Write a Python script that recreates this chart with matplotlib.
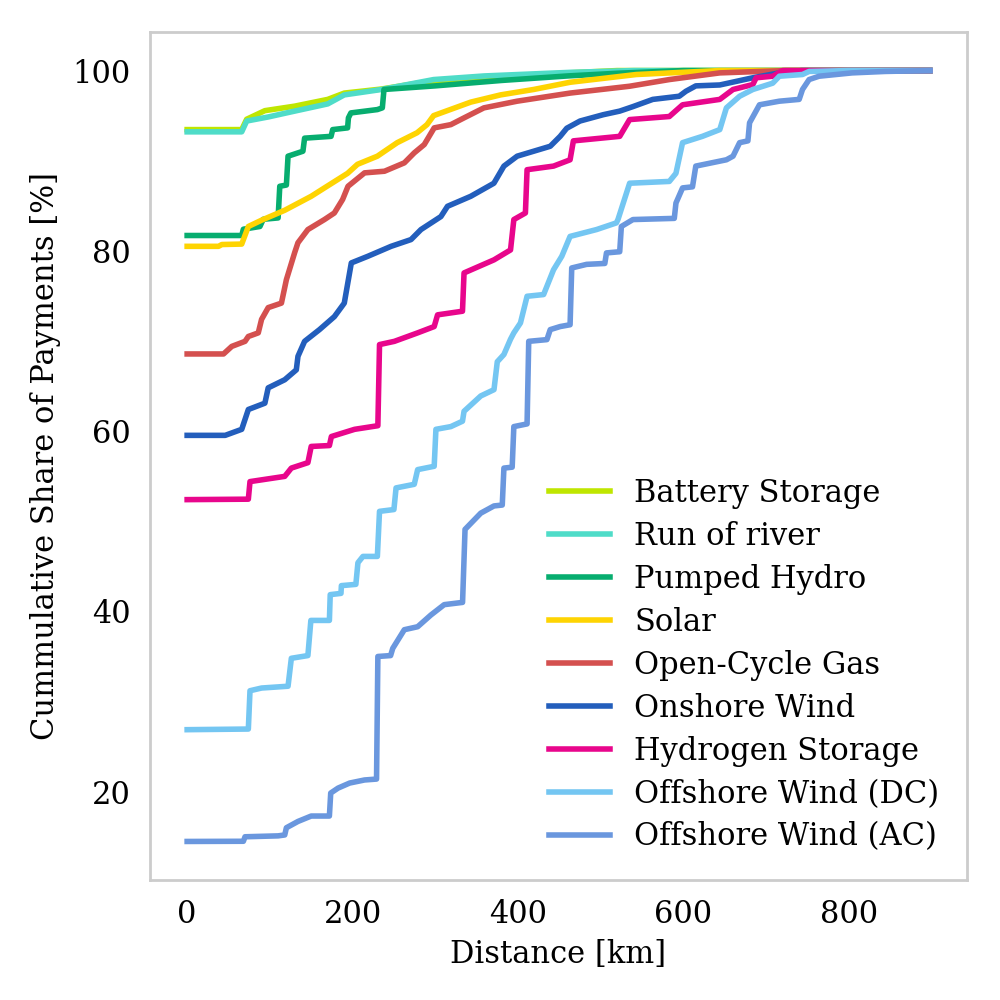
import matplotlib
matplotlib.use("Agg")
import matplotlib.pyplot as plt

plt.rcParams['font.family'] = ['DejaVu Serif']
plt.rcParams['font.size'] = 11

# distance [km] / cumulative share [%]
battery_x = [0, 66, 72, 94, 130, 170, 190, 235, 279, 319, 399, 463, 520, 898]
battery_y = [93.45, 93.45, 94.6, 95.55, 96.05, 96.8, 97.5, 97.95, 98.6, 99.0, 99.4, 99.75, 100, 100]

ror_x = [0, 66, 72, 98, 130, 170, 190, 235, 298, 359, 463, 540, 898]
ror_y = [93.2, 93.2, 94.4, 94.85, 95.5, 96.3, 97.3, 97.9, 99.0, 99.4, 99.8, 100, 100]

phs_x = [0, 66, 68, 88, 92, 110, 112, 120, 122, 140, 142, 174, 176, 194, 195, 198, 230, 236, 238,
         300, 380, 460, 520, 600, 898]
phs_y = [81.7, 81.7, 82.4, 82.7, 83.5, 83.65, 87.16, 87.3, 90.5, 91.05, 92.5, 92.7, 93.45, 93.64, 94.75,
         95.3, 95.67, 95.86, 97.9, 98.3, 98.9, 99.4, 99.7, 100, 100]

solar_x = [0, 38, 42, 66, 74, 90, 118, 150, 166, 194, 206, 230, 254, 278, 290, 298, 319, 343, 379,
           419, 463, 543, 644, 898]
solar_y = [80.5, 80.5, 80.7, 80.75, 82.7, 83.4, 84.5, 86.05, 86.98, 88.6, 89.6, 90.5, 92.0, 93.1, 94.0,
           95.0, 95.7, 96.5, 97.3, 97.9, 98.7, 99.56, 100, 100]

ocgt_x = [0, 44, 54, 70, 74, 86, 90, 98, 114, 120, 130, 134, 146, 166, 178, 188, 194.5, 214.5, 238.6,
          262.6, 274.6, 286.7, 298.7, 318.8, 334.8, 358.8, 399, 463, 535, 583, 644, 724, 898]
ocgt_y = [68.56, 68.56, 69.4, 69.96, 70.5, 70.9, 72.4, 73.7, 74.2, 76.8, 79.8, 80.9, 82.36, 83.47, 84.2,
          85.7, 87.16, 88.65, 88.83, 89.76, 90.87, 91.79, 93.64, 94.0, 94.75, 95.86, 96.6, 97.5, 98.26,
          99.0, 99.74, 100, 100]

onwind_x = [0, 46, 66, 74, 94, 98, 118, 132, 134, 142, 160, 178, 190, 198.5, 218.6, 246.6, 270.7,
            282.7, 306.8, 314.8, 342.9, 370.9, 383, 399, 439, 451, 459, 475, 503, 523, 539, 563, 595,
            603, 615, 644, 684, 716, 743, 898]
onwind_y = [59.53, 59.53, 60.2, 62.4, 63.1, 64.8, 65.7, 66.8, 68.3, 69.96, 71.26, 72.7, 74.2, 78.66,
            79.4, 80.5, 81.25, 82.36, 83.8, 84.94, 86.05, 87.5, 89.4, 90.5, 91.6, 92.7, 93.6, 94.4, 95.1,
            95.5, 96.0, 96.8, 97.15, 97.7, 98.3, 98.4, 99.2, 99.74, 100, 100]

h2_x = [0, 74, 76, 118, 126, 146, 150, 172, 174.4, 202.5, 230.6, 232.6, 250.6, 278.7, 298.7, 302.8,
        332.9, 334.8, 371, 391, 395, 409, 411, 443, 463, 467, 523, 535, 583, 599, 644, 660, 684, 688,
        708, 720, 898]
h2_y = [52.4, 52.45, 54.4, 54.98, 55.9, 56.5, 58.3, 58.4, 59.4, 60.2, 60.6, 69.6, 69.96, 70.9, 71.6,
        72.9, 73.3, 77.55, 79.0, 80.1, 83.47, 84.2, 89.0, 89.4, 90.1, 92.2, 92.7, 94.56, 94.9, 96.2,
        96.8, 97.9, 98.45, 99.2, 99.37, 100, 100]

dc_x = [0, 74, 76, 90, 122, 126, 146, 149.6, 172, 173, 186, 186.5, 204, 206.5, 212.6, 230, 232.6,
        250, 252.6, 274.6, 278.7, 298.7, 300.8, 318.8, 332.9, 334.8, 355, 371, 375, 383, 391, 395,
        403, 411, 431, 443, 453, 463, 495, 519, 521, 535, 583, 591, 599, 623, 644, 652, 668, 684,
        708, 716, 744, 752, 800, 898]
dc_y = [26.88, 26.95, 31.2, 31.5, 31.7, 34.8, 35.1, 39.0, 39.0, 41.86, 42.0, 42.86, 43.0, 45.4, 46.1,
        46.1, 51.1, 51.3, 53.7, 54.1, 55.73, 56.1, 60.2, 60.5, 61.1, 62.2, 63.9, 64.6, 67.7, 68.5,
        70.2, 70.9, 72.0, 74.96, 75.15, 77.9, 79.4, 81.6, 82.36, 83.1, 83.5, 87.5, 87.7, 88.6, 92.0,
        92.7, 93.45, 95.86, 97.15, 97.9, 98.6, 99.37, 99.56, 99.9, 100, 100]

ac_x = [0, 68, 70, 110, 118, 120, 134, 150, 172, 173.6, 182.5, 196.5, 214.5, 229, 230.6, 246, 248.6,
        262.6, 278.7, 294.7, 310.8, 333, 336, 355, 371, 381, 383, 393, 395, 411, 413, 435, 439, 451,
        463, 465, 483, 505, 507, 523, 525, 539, 589, 591, 599, 611, 615, 652, 660, 668, 678, 680,
        692, 716, 740, 744, 752, 764, 804, 844, 898]
ac_y = [14.48, 14.5, 15.0, 15.1, 15.2, 16.0, 16.7, 17.3, 17.3, 19.85, 20.4, 20.96, 21.3, 21.4, 35.0,
        35.1, 35.9, 37.97, 38.3, 39.6, 40.75, 41.0, 49.1, 50.9, 51.7, 51.8, 55.9, 56.0, 60.5, 60.8,
        69.96, 70.15, 71.26, 71.6, 71.8, 78.1, 78.5, 78.6, 79.77, 79.9, 82.7, 83.47, 83.6, 85.3,
        86.98, 87.1, 89.4, 90.1, 90.5, 92.0, 92.2, 94.2, 96.2, 96.6, 96.8, 97.9, 99.0, 99.37, 99.74,
        99.9, 100]

labels = ["Battery Storage", "Run of river", "Pumped Hydro", "Solar", "Open-Cycle Gas",
          "Onshore Wind", "Hydrogen Storage", "Offshore Wind (DC)", "Offshore Wind (AC)"]
colors = ["#bfe600", "#4fdcc8", "#07ad6f", "#fed402", "#d4504f",
          "#235ebc", "#e8068c", "#74c6f2", "#6a97de"]
series = [(battery_x, battery_y), (ror_x, ror_y), (phs_x, phs_y), (solar_x, solar_y),
          (ocgt_x, ocgt_y), (onwind_x, onwind_y), (h2_x, h2_y), (dc_x, dc_y), (ac_x, ac_y)]

fig = plt.figure(figsize=(5, 5), dpi=200)
ax = fig.add_axes([0.150, 0.120, 0.817, 0.848])

for (x, y), lab, c in zip(series, labels, colors):
    ax.plot(x, y, color=c, linewidth=2.0, label=lab)

ax.set_xticks([0, 200, 400, 600, 800])
ax.set_yticks([20, 40, 60, 80, 100])
ax.tick_params(length=0, pad=7)
for s in ax.spines.values():
    s.set_color("#cccccc")
    s.set_linewidth(1.0)

ax.set_xlabel("Distance [km]", labelpad=3)
ax.set_ylabel("Cummulative Share of Payments [%]")
ax.legend(loc="lower right", frameon=False, labelspacing=0.39)

fig.savefig("out.png", dpi=200)
